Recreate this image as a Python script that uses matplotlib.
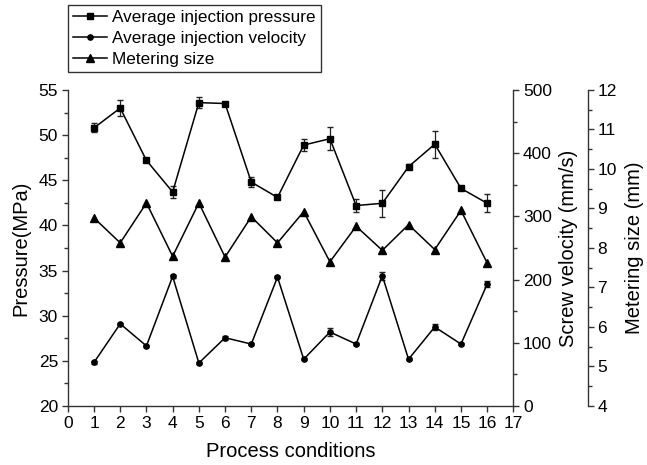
import numpy as np
import matplotlib
matplotlib.use('Agg')
import matplotlib.pyplot as plt
from matplotlib.ticker import MultipleLocator
from matplotlib.lines import Line2D

plt.rcParams['font.family'] = ['Liberation Sans', 'DejaVu Sans']

conditions = list(range(1, 17))
pressure = [50.8, 53.0, 47.2, 43.7, 53.6, 53.5, 44.8, 43.1, 48.9, 49.6, 42.2, 42.45, 46.5, 49.0, 44.1, 42.45]
pressure_err = [0.5, 0.9, 0.2, 0.7, 0.6, 0.2, 0.6, 0.15, 0.7, 1.3, 0.7, 1.5, 0.3, 1.5, 0.2, 1.0]
velocity = [69, 130, 95, 205, 68, 108, 98, 204, 74, 117, 98, 206, 74, 125, 98, 193]
velocity_err = [2, 2, 2, 2, 2, 3, 2, 2, 2, 6, 2, 6, 2, 5, 2, 4]
metering = [8.76, 8.13, 9.14, 7.79, 9.14, 7.77, 8.79, 8.13, 8.92, 7.65, 8.55, 7.94, 8.59, 7.96, 8.95, 7.62]
labels = ['Average injection pressure', 'Average injection velocity', 'Metering size']

fig = plt.figure(figsize=(6.47, 4.65), dpi=100)
ax = fig.add_axes([0.1048, 0.1269, 0.6887, 0.6796])
ax2 = ax.twinx()
ax3 = ax.twinx()

spine_c = '#333333'
lw = 1.1

ax.errorbar(conditions, pressure, yerr=pressure_err, color='black', marker='s', ms=4.2,
            lw=lw, capsize=2.3, elinewidth=0.9, ecolor='#222222')
ax2.errorbar(conditions, velocity, yerr=velocity_err, color='black', marker='o', ms=3.8,
             lw=lw, capsize=2.3, elinewidth=0.9, ecolor='#222222')
ax3.plot(conditions, metering, color='black', marker='^', ms=5.5, lw=lw)

ax.set_xlim(0, 17)
ax.set_xticks(range(0, 18))
ax.set_ylim(20, 55)
ax.yaxis.set_major_locator(MultipleLocator(5))
ax.yaxis.set_minor_locator(MultipleLocator(2.5))
ax2.set_ylim(0, 500)
ax2.yaxis.set_major_locator(MultipleLocator(100))
ax2.yaxis.set_minor_locator(MultipleLocator(50))
ax3.set_ylim(4, 12)
ax3.yaxis.set_major_locator(MultipleLocator(1))
ax3.yaxis.set_minor_locator(MultipleLocator(0.5))

ax3.spines['right'].set_position(('axes', 1.167))

for a in (ax, ax2, ax3):
    a.spines['top'].set_visible(False)
    for s in a.spines.values():
        s.set_color(spine_c)
        s.set_linewidth(1.0)
    a.tick_params(axis='both', which='major', direction='out', length=4.5, width=1.0,
                  color=spine_c, labelsize=12.5, pad=2.5)
    a.tick_params(axis='both', which='minor', direction='out', length=2.8, width=1.0, color=spine_c)
for a in (ax2, ax3):
    a.spines['left'].set_visible(False)
    a.spines['bottom'].set_visible(False)
ax.spines['right'].set_visible(False)

ax.set_xlabel('Process conditions', fontsize=14.5, labelpad=8)
ax.set_ylabel('Pressure(MPa)', fontsize=14.5)
ax.yaxis.set_label_coords(-0.083, 0.5)
ax2.set_ylabel('Screw velocity (mm/s)', fontsize=14.5)
ax2.yaxis.set_label_coords(1.103, 0.5)
ax3.set_ylabel('Metering size (mm)', fontsize=14.5)
ax3.yaxis.set_label_coords(1.25, 0.5)

handles = [Line2D([], [], color='black', marker='s', ms=4.2, lw=lw),
           Line2D([], [], color='black', marker='o', ms=3.8, lw=lw),
           Line2D([], [], color='black', marker='^', ms=5.5, lw=lw)]
leg = fig.legend(handles, labels, loc='upper left', bbox_to_anchor=(0.105, 0.99), fontsize=12.3,
                 frameon=True, fancybox=False, edgecolor='black', handlelength=2.0, handletextpad=0.3,
                 borderpad=0.3, labelspacing=0.35, borderaxespad=0)
leg.get_frame().set_linewidth(1.0)

fig.savefig('out.png', dpi=100)
